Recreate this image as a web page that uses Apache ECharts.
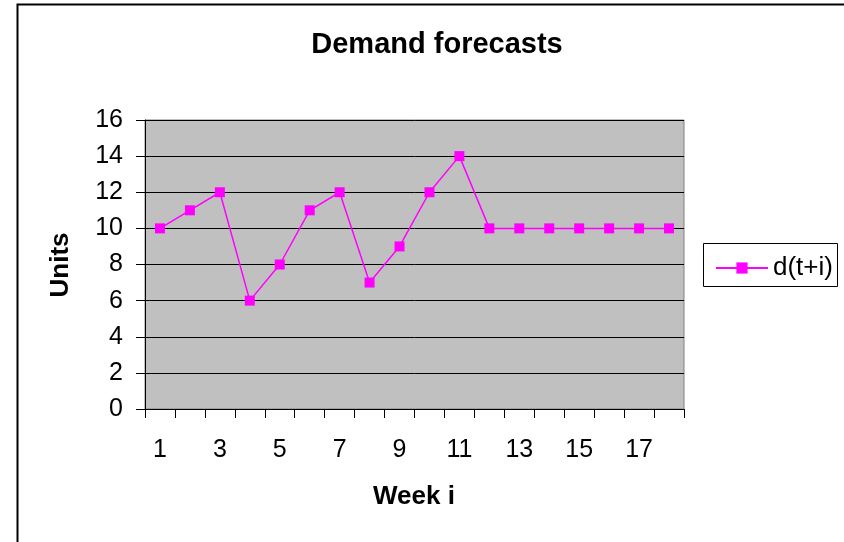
<!DOCTYPE html>
<html>
<head>
<meta charset="utf-8">
<script src="https://cdn.jsdelivr.net/npm/echarts@6/dist/echarts.min.js"></script>
<style>
  html, body { margin: 0; padding: 0; background: #ffffff; }
  #chart { width: 844px; height: 542px; }
</style>
</head>
<body>
<div id="chart"></div>
<script>
// Weekly demand forecast d(t+i)
const weeks = ['1','2','3','4','5','6','7','8','9','10','11','12','13','14','15','16','17','18'];
const demand = [10, 11, 12, 6, 8, 11, 12, 7, 9, 12, 14, 10, 10, 10, 10, 10, 10, 10];
const seriesName = 'd(t+i)';
const yMin = 0, yMax = 16, yStep = 2;

const font = 'Arial, "Liberation Sans", sans-serif';
const chart = echarts.init(document.getElementById('chart'), null, { renderer: 'canvas' });

chart.setOption({
  animation: false,
  backgroundColor: '#ffffff',
  title: {
    text: 'Demand forecasts',
    left: 432, top: 25, textAlign: 'center',
    textStyle: { fontFamily: font, fontSize: 29, fontWeight: 'bold', color: '#000' }
  },
  graphic: [
    { type: 'polyline', shape: { points: [[17.5, 560], [17.5, 4.5], [850, 4.5]] },
      style: { stroke: '#000', lineWidth: 2, fill: null } },
    { type: 'text', x: 414, y: 497,
      style: { text: 'Week i', font: 'bold 26px ' + font, fill: '#000', align: 'center', verticalAlign: 'middle' } },
    { type: 'text', x: 61, y: 265, rotation: Math.PI / 2, originX: 0, originY: 0,
      style: { text: 'Units', font: 'bold 26px ' + font, fill: '#000', align: 'center', verticalAlign: 'middle' } },
    { type: 'rect', shape: { x: 703.5, y: 243.5, width: 134, height: 43 },
      style: { fill: '#fff', stroke: '#000', lineWidth: 1 }, z: 0 }
  ],
  legend: {
    data: [seriesName],
    left: 710, top: 250,
    itemWidth: 52, itemHeight: 14, itemGap: 4,
    textStyle: { fontFamily: font, fontSize: 26, color: '#000' },
    z: 10
  },
  grid: {
    left: 145, top: 120, right: 160, bottom: 133,
    show: true, backgroundColor: '#c0c0c0', borderColor: '#808080', borderWidth: 1
  },
  xAxis: {
    type: 'category',
    data: weeks,
    boundaryGap: true,
    axisLine: { lineStyle: { color: '#000', width: 1 } },
    axisTick: { show: true, interval: 0, length: 9, lineStyle: { color: '#000' } },
    axisLabel: { interval: 1, margin: 29, fontFamily: font, fontSize: 25, color: '#000' },
    splitLine: { show: false }
  },
  yAxis: {
    type: 'value',
    min: yMin, max: yMax, interval: yStep,
    axisLine: { show: true, lineStyle: { color: '#000', width: 1 } },
    axisTick: { show: true, length: 9, lineStyle: { color: '#000' } },
    axisLabel: { margin: 22, fontFamily: font, fontSize: 25, color: '#000' },
    splitLine: { show: true, lineStyle: { color: '#000', width: 1 } }
  },
  series: [{
    name: seriesName,
    type: 'line',
    data: demand,
    symbol: 'rect',
    symbolSize: 10,
    showAllSymbol: true,
    itemStyle: { color: '#ff00ff' },
    lineStyle: { color: '#ff00ff', width: 1.5 }
  }]
});
</script>
</body>
</html>
